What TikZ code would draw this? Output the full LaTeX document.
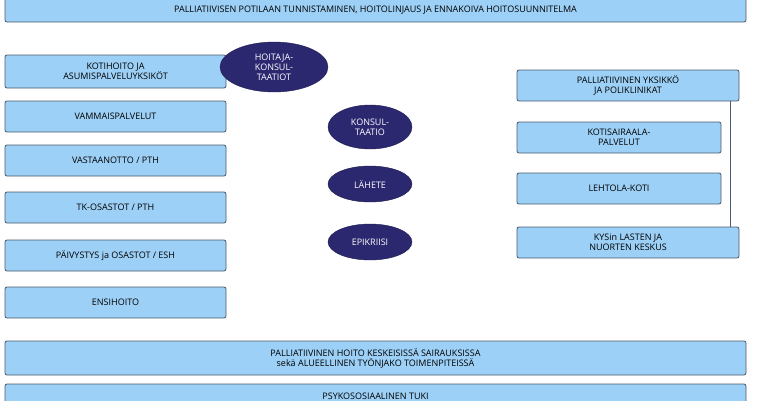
\documentclass[tikz,border=0pt]{standalone}
\usepackage{fontspec}
\setmainfont{Open Sans}
\usetikzlibrary{shapes.geometric}
\definecolor{boxfill}{HTML}{9DD0F6}
\definecolor{boxline}{HTML}{4A5A6A}
\definecolor{navy}{HTML}{2C2870}
\tikzset{
 bx/.style={draw=boxline,fill=boxfill,rounded corners=2pt,line width=0.8pt,align=center,font=\fontsize{9}{10}\selectfont,inner sep=0pt},
 el/.style={ellipse,draw=navy!70!black,fill=navy,text=white,align=center,font=\fontsize{9}{10}\selectfont,inner sep=0pt},
}
\newcommand{\bxat}[6]{\node[bx,minimum width=#3-#1,minimum height=#4-#2] (#5) at ({(#1+#3)/2},{(#2+#4)/2}) {#6};}
\begin{document}
\begin{tikzpicture}[x=1pt,y=-1pt]
\useasboundingbox (0,0) rectangle (760,400);
\clip (0,0) rectangle (760,400);
\bxat{5}{-2}{746}{22}{top}{PALLIATIIVISEN POTILAAN TUNNISTAMINEN, HOITOLINJAUS JA ENNAKOIVA HOITOSUUNNITELMA}
\bxat{5}{55}{226}{88}{l1}{KOTIHOITO JA\\ASUMISPALVELUYKSIKÖT}
\bxat{5}{101}{226}{132}{l2}{VAMMAISPALVELUT}
\bxat{5}{145}{226}{176}{l3}{VASTAANOTTO / PTH}
\bxat{5}{192}{226}{223}{l4}{TK-OSASTOT / PTH}
\bxat{5}{240}{226}{271}{l5}{PÄIVYSTYS ja OSASTOT / ESH}
\bxat{5}{287}{226}{318}{l6}{ENSIHOITO}
\bxat{517}{70}{739}{101}{r1}{PALLIATIIVINEN YKSIKKÖ\\JA POLIKLINIKAT}
\bxat{517}{122}{721}{153}{r2}{KOTISAIRAALA-\\PALVELUT}
\bxat{517}{173}{721}{204}{r3}{LEHTOLA-KOTI}
\bxat{517}{227}{739}{258}{r4}{KYSin LASTEN JA\\NUORTEN KESKUS}
\bxat{5}{341}{746}{375}{b1}{PALLIATIIVINEN HOITO KESKEISISSÄ SAIRAUKSISSA\\sekä ALUEELLINEN TYÖNJAKO TOIMENPITEISSÄ}
\bxat{5}{384}{746}{414}{b2}{\raisebox{6pt}{PSYKOSOSIAALINEN TUKI}}
\node[el,minimum width=108,minimum height=50] (e1) at (274,67) {HOITAJA-\\KONSUL-\\TAATIOT};
\node[el,minimum width=84,minimum height=44] (e2) at (370,127) {KONSUL-\\TAATIO};
\node[el,minimum width=84,minimum height=36] (e3) at (370,184) {LÄHETE};
\node[el,minimum width=84,minimum height=36] (e4) at (370,242) {EPIKRIISI};
\draw[boxline,line width=0.8pt] (730,101) coordinate (c1) -- (730,227) coordinate (c2);
\end{tikzpicture}
\end{document}
